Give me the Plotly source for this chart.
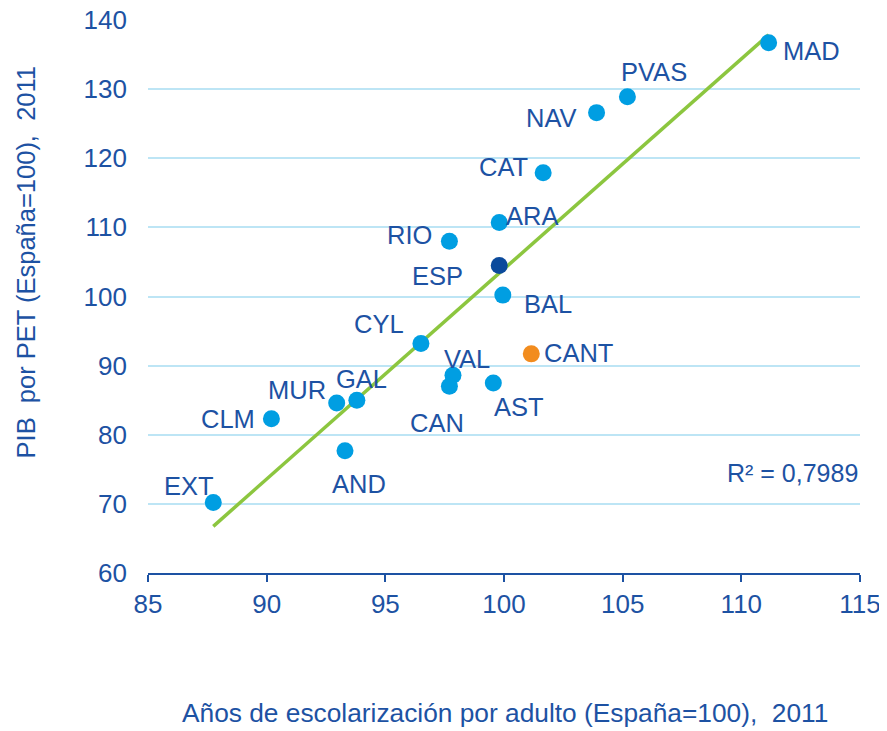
import numpy as np
import plotly.graph_objects as go

regions = ["MAD", "PVAS", "NAV", "CAT", "ARA", "RIO", "ESP", "BAL", "CYL", "CANT",
           "VAL", "CAN", "AST", "GAL", "MUR", "CLM", "AND", "EXT"]
escolarizacion = [111.15, 105.2, 103.9, 101.65, 99.8, 97.7, 99.8, 99.95, 96.5, 101.15,
                  97.85, 97.7, 99.55, 93.8, 92.95, 90.2, 93.3, 87.75]
pib_pet = [136.7, 128.9, 126.6, 117.9, 110.7, 108.0, 104.5, 100.2, 93.2, 91.7,
           88.6, 87.0, 87.5, 85.0, 84.6, 82.3, 77.7, 70.2]
r2_text = "R² = 0,7989"

# styles
TXT = "#1D52A3"
FONT = "Liberation Sans, Arial, sans-serif"
dot_colors = {"ESP": "#0B4A9C", "CANT": "#F28C1E"}
label_offsets = {  # pixel offsets of label centre from point (dx, dy up)
    "MAD": (43, -8), "PVAS": (27, 25), "NAV": (-45, -5), "CAT": (-40, 6),
    "ARA": (33, 7), "RIO": (-40, 6), "ESP": (-62, -11), "BAL": (45, -9),
    "CYL": (-42, 20), "CANT": (47, 1), "VAL": (14, 16), "CAN": (-12, -37),
    "AST": (26, -24), "GAL": (5, 21), "MUR": (-40, 13), "CLM": (-43, 0),
    "AND": (14, -33), "EXT": (-24, 16),
}

xs = np.array(escolarizacion)
ys = np.array(pib_pet)
mask = np.array([r != "ESP" for r in regions])
slope, intercept = np.polyfit(xs[mask], ys[mask], 1)
x_line = np.array([xs[mask].min(), xs[mask].max()])
y_line = slope * x_line + intercept

fig = go.Figure()
fig.add_trace(go.Scatter(x=x_line, y=y_line, mode="lines",
                         line=dict(color="#8CC63F", width=3.5),
                         hoverinfo="skip", showlegend=False))
fig.add_trace(go.Scatter(
    x=escolarizacion, y=pib_pet, mode="markers",
    marker=dict(size=17, color=[dot_colors.get(r, "#009EE2") for r in regions],
                line=dict(width=0)),
    text=regions, showlegend=False))

for r, x, y in zip(regions, escolarizacion, pib_pet):
    dx, dy = label_offsets[r]
    fig.add_annotation(x=x, y=y, text=r, showarrow=False, xshift=dx, yshift=dy,
                       font=dict(family=FONT, size=25.5, color=TXT))

fig.add_annotation(x=1.0, y=74.4, xref="paper", yref="y", xanchor="right",
                   yanchor="middle", text=r2_text, showarrow=False,
                   font=dict(family=FONT, size=25, color=TXT))
fig.add_annotation(x=-0.171, y=0.562, xref="paper", yref="paper", textangle=-90,
                   text="PIB  por PET (España=100),  2011", showarrow=False,
                   xanchor="center", yanchor="middle",
                   font=dict(family=FONT, size=25.5, color=TXT))
fig.add_annotation(x=0.502, y=-0.254, xref="paper", yref="paper",
                   text="Años de escolarización por adulto (España=100),  2011",
                   showarrow=False, xanchor="center", yanchor="middle",
                   font=dict(family=FONT, size=26.3, color=TXT))

fig.update_layout(
    width=879, height=723,
    margin=dict(l=140, r=27, t=12, b=158, autoexpand=False),
    paper_bgcolor="white", plot_bgcolor="white",
    font=dict(family=FONT, color=TXT),
    xaxis=dict(range=[85, 115], dtick=5, tick0=85, showgrid=False, zeroline=False,
               showline=True, linecolor="#1D52A3", linewidth=2, automargin=False,
               ticks="outside", ticklen=7, tickwidth=2, tickcolor="#1D52A3",
               ticklabeloverflow="allow",
               tickfont=dict(family=FONT, size=26, color=TXT)),
    yaxis=dict(range=[60, 140], dtick=10, showgrid=True, gridcolor="#BDE5F5",
               gridwidth=2, zeroline=False, showline=False, ticks="",
               automargin=False, ticklabelstandoff=20, ticklabeloverflow="allow",
               tickfont=dict(family=FONT, size=26, color=TXT)),
)

fig.write_html("out.html")
